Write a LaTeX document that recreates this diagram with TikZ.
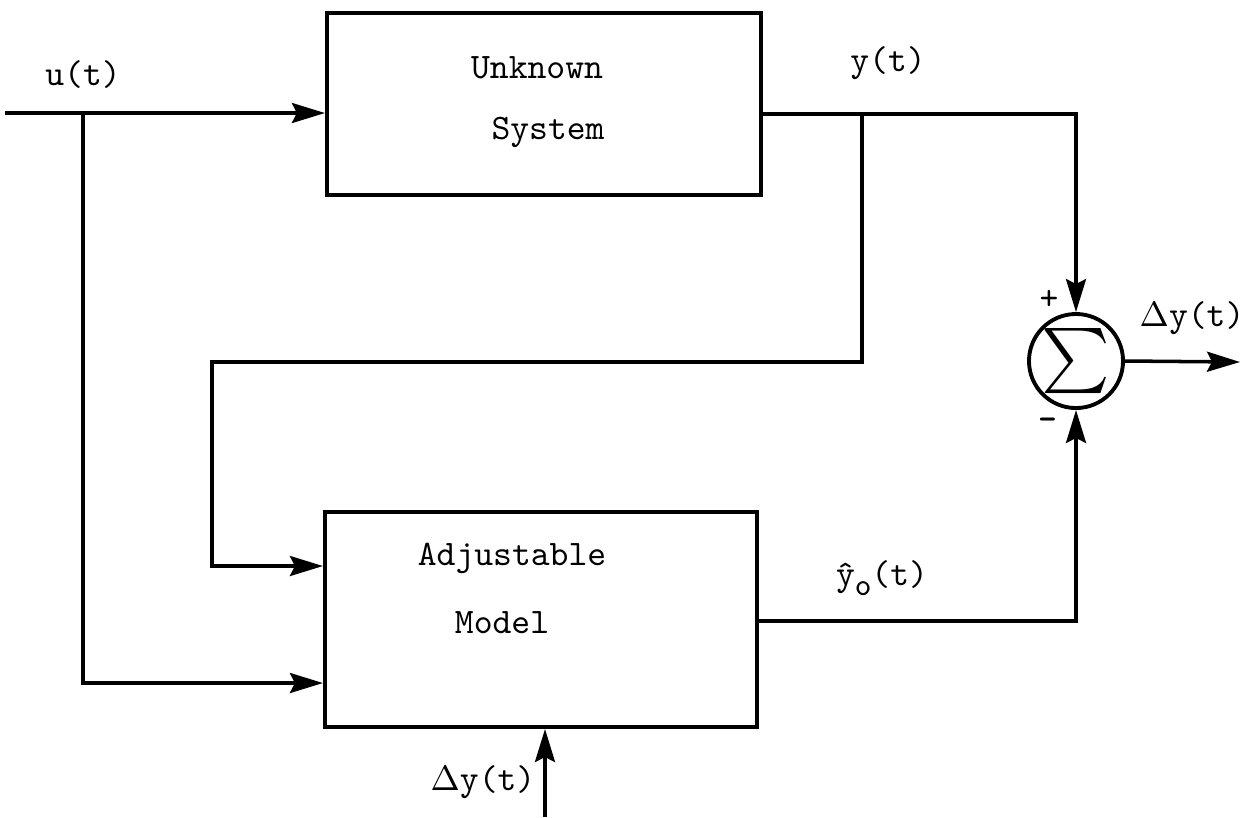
\documentclass[tikz,border=0pt]{standalone}
\usepackage{graphicx}
\usetikzlibrary{arrows.meta}
\begin{document}
\begin{tikzpicture}[x=0.01cm,y=-0.01cm,
  line width=1pt,
  font=\ttfamily\fontsize{10.2pt}{12pt}\selectfont,
  blk/.style={draw,rectangle,inner sep=0pt,line width=1.1pt},
  lbl/.style={inner sep=0pt,anchor=center},
  arr/.style={-{Stealth[length=0.33cm,width=0.2cm,inset=0.05cm]}},
  sumnode/.style={draw,circle,inner sep=0pt,minimum size=0.94cm,line width=1.1pt}]
  \useasboundingbox (0,0) rectangle (1252,817);

  % blocks
  \node[blk,minimum width=4.34cm,minimum height=1.82cm] (unk) at (544,104) {};
  \node[blk,minimum width=4.32cm,minimum height=2.15cm] (model) at (541,619.5) {};
  \node[sumnode] (sum) at (1076,361) {};
  \node[lbl] (sig) at (1076,361) {\scalebox{1.85}{$\sum$}};

  % block texts
  \node[lbl] (tunk) at (537,68) {Unknown};
  \node[lbl] (tsys) at (548,132) {System};
  \node[lbl] (tadj) at (512,558) {Adjustable};
  \node[lbl] (tmod) at (502,623) {Model};

  % signal labels
  \node[lbl] (lu) at (83,75) {u(t)};
  \node[lbl] (ly) at (888,63) {y(t)};
  \node[lbl] (ldy) at (1192,318) {$\Delta$y(t)};
  \node[lbl] (ldyb) at (483,782) {$\Delta$y(t)};
  \node[lbl] (lyh) at (882,578) {\^{y}\raisebox{-0.6ex}{\fontsize{9pt}{9pt}\selectfont o}(t)};
  \node[lbl] (lplus) at (1049,300) {+};
  \node[lbl] (lminus) at (1048,424) {\textbf{-}};

  % connection points
  \coordinate (uin) at (5,113);
  \coordinate (ub) at (83,113);
  \coordinate (ubd) at (83,683);
  \coordinate (yb) at (862,114);
  \coordinate (yr) at (1076,114);
  \coordinate (fb1) at (862,362);
  \coordinate (fb2) at (212,362);
  \coordinate (fb3) at (212,566);
  \coordinate (mo) at (1076,621);
  \coordinate (dyin) at (545,817);
  \coordinate (sout) at (1240,362);

  % input u(t)
  \draw[arr] (uin) -- (uin -| unk.west);
  \draw[arr] (ub) -- (ubd) -- (ubd -| model.west);

  % plant output y(t)
  \draw[arr] (yb -| unk.east) -- (yr) -- (sum.north);
  \draw[arr] (yb) -- (fb1) -- (fb2) -- (fb3) -- (fb3 -| model.west);

  % model output
  \draw[arr] (mo -| model.east) -- (mo) -- (sum.south);

  % error signal
  \draw[arr] (sum.east) -- (sout);
  \draw[arr] (dyin) -- (dyin |- model.south);
\end{tikzpicture}
\end{document}
